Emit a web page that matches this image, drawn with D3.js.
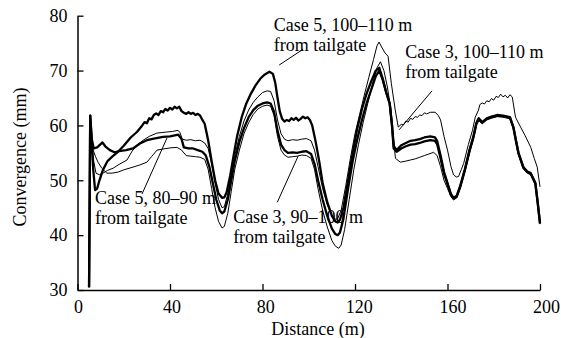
<!DOCTYPE html>
<html><head><meta charset="utf-8">
<script src="https://cdn.jsdelivr.net/npm/d3@7"></script>
<style>body{margin:0;background:#fff}svg{display:block}text{font-family:"Liberation Serif","Times New Roman",Times,"DejaVu Serif",serif;fill:#000}</style>
</head><body><svg id="c" width="561" height="338"></svg>
<script>
const xTicks=[0,40,80,120,160,200];
const yTicks=[30,40,50,60,70,80];
const xTitle="Distance (m)";
const yTitle="Convergence (mm)";
// Case 5, 100–110 m from tailgate (thick)
const case5_100=[[5,30.5],[5.5,61.8],[6,58],[6.8,52],[7.6,48.2],[8.5,48.5],[9.5,50],[11,51.9],[13,53.5],[15,54.3],[17.5,55.2],[20,56.3],[23,57.8],[25.7,58.8],[28,60],[29,60.6],[30,60.4],[31,61.3],[32,61.1],[33,61.9],[34,62.2],[35,61.9],[36,62.6],[37,62.4],[38,63],[39,62.7],[40,63.2],[41,62.9],[42,63.4],[43,63.1],[44,63.4],[45,62.6],[46,62.3],[47,62.1],[48,62.4],[49,62.1],[50,62.3],[51,61.9],[52,62.1],[53,61.8],[54,61],[55,60.3],[56.5,57.3],[58,53.5],[59.5,50],[61,47.6],[62.5,46.8],[63.5,46.9],[64.5,47.8],[66,50.8],[67.5,54.5],[69,58],[71,61.5],[73,64],[75,65.8],[77,67.3],[79,68.5],[81,69.3],[83,69.8],[84.5,69.4],[85.5,67.8],[86.5,65],[87.5,62.5],[88.5,61.2],[89.5,60.7],[90.5,61],[91.5,60.8],[92.5,61.3],[93.5,61],[94.5,61.4],[95.5,60.9],[96.5,61.2],[97.5,61.6],[98.5,61.3],[99.5,61.5],[100.5,61],[101.5,60],[103,57],[104.5,53.5],[106,49.5],[108,46],[110,43.5],[111.5,42.5],[112.5,42.3],[113.5,42.8],[115,45],[117,50],[119,55],[121,59.5],[123,63],[125,65.8],[127,68],[129,70],[130.5,70.5],[132,68.5],[133.5,66],[135,64],[136,60],[136.8,56.2],[138,55.5],[140,56.4],[142,56.8],[144,57.2],[146,57.3],[148,57.5],[150,57.8],[152.6,58],[154.6,57.8],[155.5,57.2],[157,54.5],[158.5,51.5],[160,49.5],[161.5,47.5],[162.6,46.8],[164,47.2],[165.5,49],[167.5,52],[169.5,55.5],[171.2,58],[172.5,60.5],[173.5,61.3],[175,60.6],[177,61.3],[179,61.6],[181.5,61.9],[184,61.8],[187,61.5],[188.5,59.7],[189.5,57.5],[190.7,55],[192.8,52.4],[194.5,51.6],[196,51.3],[198,49.5],[199,46],[200,42.2]];
// Case 3, 100–110 m from tailgate (thin)
const case3_100=[[5,30.5],[5.5,61.6],[6.2,57],[7,53.5],[8,51.3],[9.5,51],[11,51.3],[13,51.8],[15.4,52.2],[18,52.9],[21.4,53.7],[23.6,55.3],[26,56.5],[28.4,57.3],[31,58],[34.3,58.6],[36.5,58.7],[38.6,58.8],[41,58.9],[43.5,59.1],[44.3,58.7],[45.3,57.5],[47,57.3],[49,57.4],[51,57.2],[53,57.3],[55,56.8],[56.5,55.8],[58,53],[59.5,49.5],[61,46.5],[62.5,45],[63.5,45.2],[65,47.5],[66.5,51],[68,54.5],[70,58],[72,60.8],[74,62.8],[76,64.2],[78,65.2],[80,66],[82,66.3],[83.5,66.2],[85,64.5],[86.5,61],[88,58.5],[89.5,57.5],[91,57.2],[93,57.4],[95,57.3],[97,57.5],[99,57.6],[101,57.2],[102.5,55.5],[104,52.5],[106,48.5],[108,45.5],[110,43.6],[111.5,42.9],[112.5,43],[114,44.5],[116,49],[118,54],[120,58.5],[122,62],[124,65.5],[126,68.8],[128,72],[129.5,74.5],[130.4,75.2],[131.5,74.3],[133,73.2],[134.3,72.6],[135.7,67.7],[137.4,62.8],[138.7,59.7],[140,60.2],[141,60.1],[142,60.8],[143,60.6],[144,61.3],[145,61.1],[146,61.6],[147,61.5],[148,61.9],[149,61.8],[150,62.3],[151,62.1],[152.6,62.4],[154.7,62.4],[156,61.8],[157,61],[158.5,58],[160,55.5],[161.5,52.5],[162.6,51],[163.8,50.6],[164.8,50.7],[166,52],[167,53.1],[169,56.5],[170.8,59.1],[172,61.5],[173.4,62.8],[174,63.8],[175,64.1],[176,63.9],[177,64.5],[178,64.3],[179,64.9],[180,64.6],[181,65.3],[182,65.1],[183,65.7],[184,65.2],[185,65.5],[186,65],[187,65.6],[188,65.2],[189.4,61.5],[191.6,59.7],[193.5,58.2],[196,56],[197.5,54],[198.8,52.4],[200,48.8]];
// Case 5, 80–90 m from tailgate (thick)
const case5_80=[[5,30.5],[5.5,61.8],[6.2,57.5],[7,55.8],[8.5,56],[10,56.6],[10.8,56.9],[12,56.2],[14,55.5],[16,55.1],[18,55.3],[21,55.5],[24,55.8],[27,56.7],[30,57.3],[33,57.6],[37,57.9],[40,58],[43.6,58.3],[45,57.5],[46,56],[48,55.8],[50,55.8],[52,55.5],[54,55.2],[55.5,54.5],[57,52.5],[58.5,49.5],[60,46.5],[61.5,44.5],[62.5,44],[63.5,44.3],[65,46.5],[66.5,50],[68,53.5],[70,57],[72,59.5],[74,61.5],[76,62.8],[78,63.6],[80,64],[82,64.2],[83.5,64],[85,62.5],[86.5,59],[88,56.5],[89.5,55.5],[91,55],[93,55.1],[95,55],[97,55.2],[99,55.3],[101,54.8],[102.5,53],[104,50],[106,46.5],[108,43.5],[110,41.2],[111.5,40.2],[112.5,40],[113.5,40.5],[115,43],[117,48.5],[119,53.5],[121,57.5],[123,61],[125,64],[127,66.5],[129,69],[130.5,70],[132,68.3],[133.5,66],[135,64],[136,60],[136.7,55.8],[138,55.2],[140,55.8],[142,56.2],[144,56.5],[146,56.6],[148,56.8],[150,57.1],[152.6,57.3],[154.6,57.2],[155.5,56.6],[157,54],[158.5,51.2],[160,49.3],[161.5,47.3],[162.6,46.7],[164,47],[165.5,48.8],[167.5,51.8],[169.5,55.3],[171.2,57.8],[172.5,60.3],[173.5,61.1],[175,60.5],[177,61.2],[179,61.5],[181.5,61.8],[184,61.7],[187,61.4],[188.5,59.6],[189.5,57.4],[190.7,54.9],[192.8,52.3],[194.5,51.5],[196,51.2],[198,49.4],[199,45.9],[200,42.1]];
// Case 3, 90–100 m from tailgate (thin)
const case3_90=[[5,30.5],[5.5,61.2],[6.2,57],[6.8,55.5],[7.8,54.3],[9,53.2],[10.5,52.2],[12.7,51.3],[15,51.3],[17.6,51.5],[20,51.9],[24,52.4],[27,52.8],[30,53.3],[32,54.3],[34.4,55.5],[37,55.7],[40,55.9],[43,56],[45,55.5],[47,54.5],[49,54.4],[51,54.3],[53,54.2],[55,53.8],[56.5,52],[58,48.5],[59.5,45],[61,42.5],[62.5,41.3],[63.5,41.6],[65,44],[66.5,48],[68,52],[70,55.5],[72,58.5],[74,60.5],[76,62],[78,63],[80,63.5],[82,63.7],[83.5,63.5],[85,61.8],[86.5,58],[88,55.5],[89.5,54.6],[91,54.2],[93,54.3],[95,54.4],[97,54.6],[99,54.5],[101,54],[102.5,52],[104,48.5],[106,44.5],[108,41.5],[110,39],[111.5,38],[113,37.6],[114,38.2],[115.5,41],[117.5,46.5],[119.5,52],[121.5,56.5],[123.5,60.5],[125.5,64],[127.5,67.5],[129.5,70.5],[131,71.6],[132.5,70],[134,67],[135.5,63],[136.5,58],[137.5,54],[139.6,53.3],[142,53.5],[144,53.7],[146,53.9],[148,54.2],[150,54.5],[152,54.8],[154,55.1],[155.5,54.5],[157,52.5],[158.5,50],[160,48.5],[161.5,47],[162.6,46.4],[164,46.8],[165.5,48.6],[167.5,51.6],[169.5,55],[171.2,57.6],[172.5,60.1],[173.5,60.9],[175,60.3],[177,61],[179,61.3],[181.5,61.6],[184,61.5],[187,61.2],[188.5,59.4],[189.5,57.2],[190.7,54.7],[192.8,52.1],[194.5,51.3],[196,51],[198,49.2],[199,45.7],[200,42]];
const seriesNames=["Case 5, 100–110 m","Case 3, 100–110 m","Case 5, 80–90 m","Case 3, 90–100 m"];
const seriesData=[case5_100,case3_100,case5_80,case3_90];
const seriesThick=[true,false,true,false];
// annotations: label lines, text start and pointer (from, to) in data coords
const annoLines=[["Case 5, 100–110 m","from tailgate"],["Case 3, 100–110 m","from tailgate"],["Case 5, 80–90 m","from tailgate"],["Case 3, 90–100 m","from tailgate"]];
const annoPos=[[84.9,77.3],[141.7,72.3],[7.6,45.6],[67.3,42.2]];
const annoPtrFrom=[[97.6,73.9],[153.3,66.3],[38.7,57.7],[95.4,54.4]];
const annoPtrTo=[[87.2,71.0],[139.1,59.2],[27.9,47.5],[86.4,46.0]];

const svg=d3.select("#c");
const x=d3.scaleLinear().domain([0,200]).range([77.5,540]);
const xLab=d3.scaleLinear().domain([0,200]).range([78,546]);
const y=d3.scaleLinear().domain([30,80]).range([290,15.7]);

const ag=svg.append("g");
annoLines.forEach((ls,i)=>{
  const t=ag.append("text").attr("x",x(annoPos[i][0])).attr("y",y(annoPos[i][1])).attr("font-size",18);
  ls.forEach((s,j)=>t.append("tspan").attr("x",x(annoPos[i][0])).attr("dy",j?20:0).text(s));
});
annoPtrFrom.forEach((f,i)=>{
  ag.append("line").attr("x1",x(f[0])).attr("y1",y(f[1])).attr("x2",x(annoPtrTo[i][0])).attr("y2",y(annoPtrTo[i][1])).attr("stroke","#000").attr("stroke-width",1);
});

const line=d3.line().x(d=>x(d[0])).y(d=>y(d[1]));
seriesData.forEach((d,i)=>{
  svg.append("path").datum(d).attr("d",line).attr("fill","none").attr("stroke","#000")
    .attr("stroke-width",seriesThick[i]?2.3:1).attr("stroke-linejoin","round");
});

const gx=svg.append("g").attr("transform","translate(0,290)")
  .call(d3.axisBottom(x).tickValues(xTicks).tickSizeInner(-6).tickSizeOuter(0).tickPadding(10).tickFormat(d3.format("d")));
gx.selectAll("text").attr("x",d=>xLab(d)-x(d));
const gy=svg.append("g").attr("transform","translate(77.5,0)")
  .call(d3.axisLeft(y).tickValues(yTicks).tickSizeInner(-6).tickSizeOuter(0).tickPadding(10));
[gx,gy].forEach(g=>{
  g.attr("font-family",null);
  g.select(".domain").attr("stroke","#000").attr("stroke-width",1.5);
  g.selectAll(".tick line").attr("stroke","#000").attr("stroke-width",1.3);
  g.selectAll("text").attr("font-size",18).attr("fill","#000");
});
svg.append("text").attr("x",318).attr("y",335).attr("text-anchor","middle").attr("font-size",18).text(xTitle);
svg.append("text").attr("transform","translate(26,157) rotate(-90)").attr("text-anchor","middle").attr("font-size",18).text(yTitle);
</script></body></html>
